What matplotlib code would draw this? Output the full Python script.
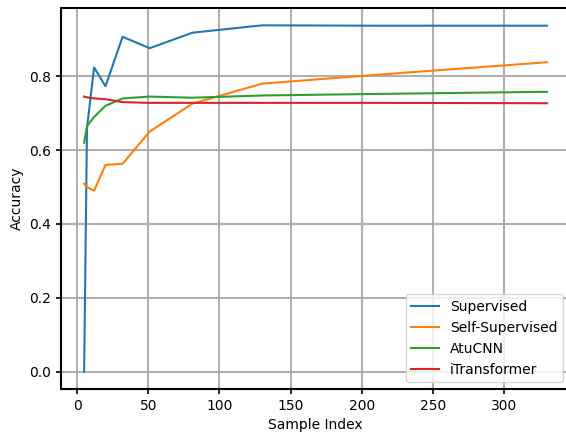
import matplotlib
matplotlib.use('Agg')
import matplotlib.pyplot as plt

# 数据
sample_idx = [5, 7, 12, 20, 32, 51, 81, 130, 207, 330]
supervised = [0.0, 0.66, 0.824, 0.773, 0.907, 0.876, 0.918, 0.938, 0.937, 0.937]
self_supervised = [0.509, 0.500, 0.490, 0.560, 0.563, 0.650, 0.726, 0.780, 0.803, 0.838]
atucnn = [0.620, 0.665, 0.690, 0.720, 0.740, 0.745, 0.742, 0.748, 0.752, 0.758]
itransformer = [0.745, 0.743, 0.740, 0.738, 0.730, 0.728, 0.728, 0.728, 0.728, 0.727]

fig = plt.figure(figsize=(5.66, 4.34), dpi=100)
ax = fig.add_axes([61 / 566, 45 / 434, 509 / 566, 381 / 434])

ax.plot(sample_idx, supervised, label='Supervised', linewidth=1.5)
ax.plot(sample_idx, self_supervised, label='Self-Supervised', linewidth=1.5)
ax.plot(sample_idx, atucnn, label='AtuCNN', linewidth=1.5)
ax.plot(sample_idx, itransformer, label='iTransformer', linewidth=1.5)

ax.set_xlabel('Sample Index')
ax.set_ylabel('Accuracy')
ax.grid(True, color='#b0b0b0', linewidth=1.5)
ax.legend(loc='lower right')
for sp in ax.spines.values():
    sp.set_linewidth(1.5)
ax.tick_params(width=1.2)

fig.savefig('out.png', dpi=100)
